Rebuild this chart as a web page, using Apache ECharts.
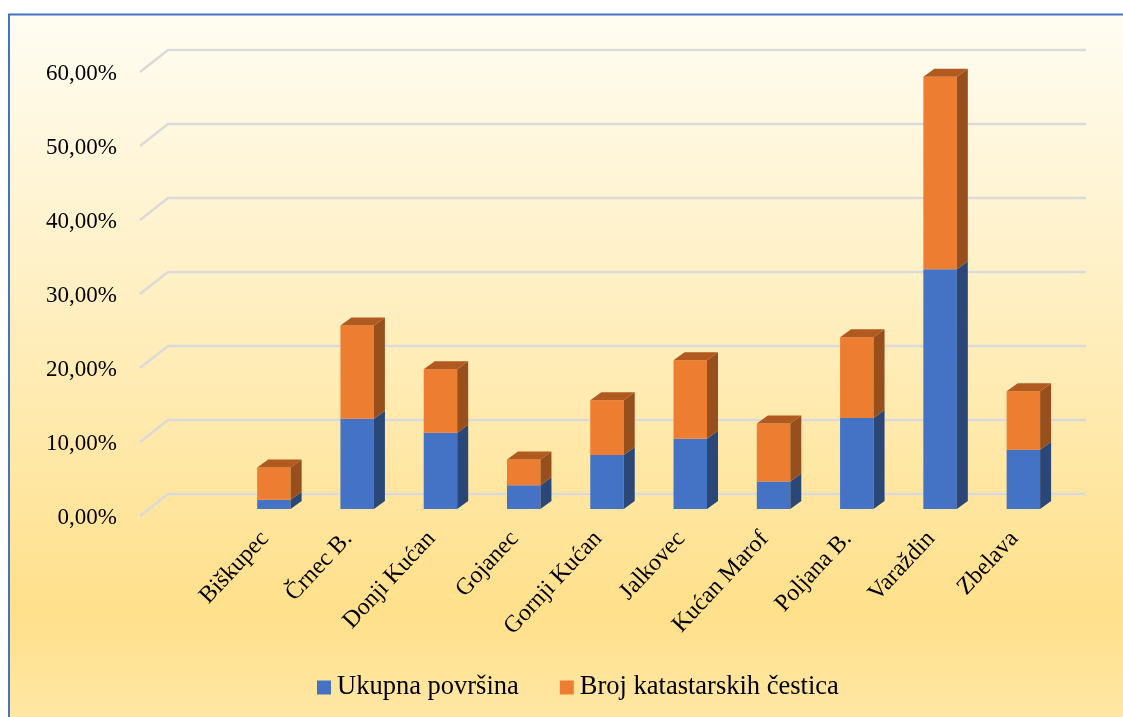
<!DOCTYPE html>
<html><head><meta charset="utf-8">
<style>html,body{margin:0;padding:0;background:#fff}#c{width:1123px;height:717px}</style>
<script src="https://cdn.jsdelivr.net/npm/echarts@6/dist/echarts.min.js"></script>
</head><body><div id="c"></div>
<script>
const categories = ['', 'Biškupec', 'Črnec B.', 'Donji Kućan', 'Gojanec', 'Gornji Kućan', 'Jalkovec', 'Kućan Marof', 'Poljana B.', 'Varaždin', 'Zbelava'];
const ukupnaPovrsina = [null, 1.25, 12.2, 10.3, 3.2, 7.3, 9.5, 3.7, 12.3, 32.4, 8.0];
const brojCestica = [null, 4.35, 12.6, 8.6, 3.5, 7.4, 10.6, 7.85, 10.9, 26.0, 7.9];
const yTicks = [0, 10, 20, 30, 40, 50, 60];
const WALL_DX = 28, WALL_DY = 22, WALL_EXTRA = 2;
const BAR_INSET_X = 9, BAR_INSET_Y = 7;
const BAR_DX = 11, BAR_DY = 8;
const BAR_RATIO = 0.402;

function shade(points, fill) {
  return {type: 'polygon', shape: {points}, style: {fill, stroke: null}};
}
function boxRenderer(values, bases, front, side, top) {
  return function (params, api) {
    const i = api.value(0), v = api.value(1);
    if (v == null || isNaN(v)) return {type: 'group', children: []};
    const base = bases ? bases[i] : 0;
    const p0 = api.coord([i, base]), p1 = api.coord([i, base + v]);
    const w = api.size([1, 0])[0] * BAR_RATIO;
    const x0 = p0[0] - w / 2 + BAR_INSET_X, x1 = x0 + w;
    const y0 = p0[1] - BAR_INSET_Y, y1 = p1[1] - BAR_INSET_Y;
    const children = [
      shade([[x0, y0], [x1, y0], [x1, y1], [x0, y1]], front),
      shade([[x1, y0], [x1 + BAR_DX, y0 - BAR_DY], [x1 + BAR_DX, y1 - BAR_DY], [x1, y1]], side)
    ];
    if (top) children.push(shade([[x0, y1], [x1, y1], [x1 + BAR_DX, y1 - BAR_DY], [x0 + BAR_DX, y1 - BAR_DY]], top));
    return {type: 'group', children};
  };
}
function gridRenderer(params, api) {
  const v = api.value(0);
  const c = params.coordSys;
  const y = api.coord([0, v])[1];
  return {type: 'polyline', shape: {points: [[c.x, y], [c.x + WALL_DX, y - WALL_DY], [c.x + c.width + WALL_DX + WALL_EXTRA, y - WALL_DY]]},
    style: {stroke: '#DADADA', lineWidth: 2.5, fill: null}, silent: true};
}
const toRows = a => a.map((v, i) => [i, v]);
const chart = echarts.init(document.getElementById('c'), null, {renderer: 'canvas'});
chart.setOption({
  animation: false,
  backgroundColor: '#fff',
  textStyle: {fontFamily: '"Liberation Serif"', color: '#000'},
  graphic: [{type: 'rect', z: -10, shape: {x: 9, y: 14.5, width: 1130, height: 720},
    style: {fill: new echarts.graphic.LinearGradient(0, 0, 0, 1, [
      {offset: 0, color: '#FFFDF3'}, {offset: 0.83, color: '#FFE08B'}, {offset: 1, color: '#FFE8A8'}]),
      stroke: '#4472C4', lineWidth: 2}}],
  grid: {left: 140, right: 67, top: 72, bottom: 201, containLabel: false},
  xAxis: {type: 'category', data: categories,
    axisLine: {show: false}, axisTick: {show: false}, splitLine: {show: false},
    axisLabel: {interval: 0, rotate: 47, margin: 19, fontSize: 24, color: '#000', fontFamily: '"Liberation Serif"'}},
  yAxis: {type: 'value', min: 0, max: 60, interval: 10,
    axisLine: {show: false}, axisTick: {show: false}, splitLine: {show: false},
    axisLabel: {margin: 23, fontSize: 23, color: '#000', fontFamily: '"Liberation Serif"',
      verticalAlign: 'top', lineHeight: 4,
      formatter: v => v.toFixed(2).replace('.', ',') + '%'}},
  legend: {top: 674, left: 317, padding: 0, itemWidth: 14, itemHeight: 14, itemGap: 41, icon: 'rect',
    data: ['Ukupna površina', 'Broj katastarskih čestica'],
    textStyle: {fontSize: 26.5, lineHeight: 14, color: '#000', fontFamily: '"Liberation Serif"', padding: [0, 0, 0, 1]}},
  series: [
    {type: 'custom', name: 'grid', coordinateSystem: 'cartesian2d', z: 1, silent: true,
      data: yTicks.map(v => [v]), encode: {y: 0}, renderItem: gridRenderer},
    {type: 'custom', name: 'Ukupna površina', coordinateSystem: 'cartesian2d', z: 2,
      itemStyle: {color: '#4472C4'}, data: toRows(ukupnaPovrsina), encode: {x: 0, y: 1},
      renderItem: boxRenderer(ukupnaPovrsina, null, '#4472C4', '#2A4778', null)},
    {type: 'custom', name: 'Broj katastarskih čestica', coordinateSystem: 'cartesian2d', z: 3,
      itemStyle: {color: '#ED7D31'}, data: toRows(brojCestica), encode: {x: 0, y: 1},
      renderItem: boxRenderer(brojCestica, ukupnaPovrsina, '#ED7D31', '#97501D', '#B15A1F')}
  ]
});
</script></body></html>
